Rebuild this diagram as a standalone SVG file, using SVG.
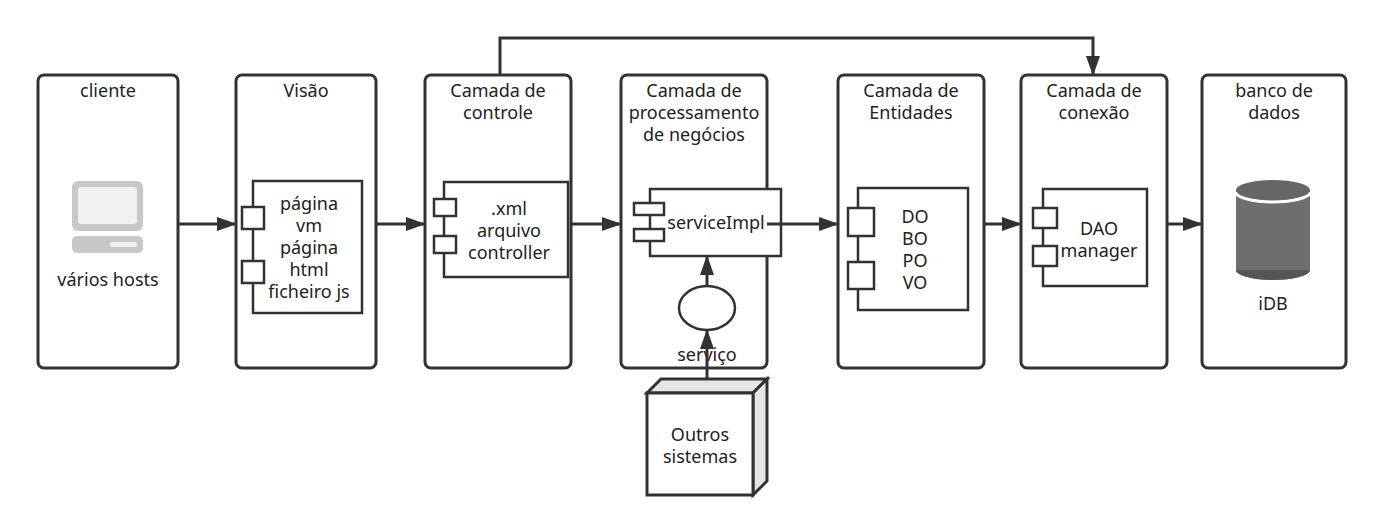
<svg xmlns="http://www.w3.org/2000/svg" width="1381" height="532" viewBox="0 0 1381 532">
<style>
.n{fill:#fff;stroke:#323232;stroke-width:3}
.i{fill:#fff;stroke:#323232;stroke-width:2.5}
.c{fill:none;stroke:#323232;stroke-width:3}
text{font-family:"Noto Sans","Open Sans",sans-serif;font-size:18px;fill:#222;text-anchor:middle}
</style>
<defs>
<marker id="b" markerWidth="20" markerHeight="14" refX="19" refY="7" orient="auto" markerUnits="userSpaceOnUse"><path d="M0,0L20,7L0,14z" fill="#323232"/></marker></defs>
<rect width="1381" height="532" fill="#fff"/>
<g id="cliente"><rect class="n" x="38" y="75" width="140" height="293" rx="6"/><text x="108" y="97">cliente</text>
<rect x="72" y="181" width="71" height="50" rx="6" fill="#c8c8c8"/><rect x="78" y="187" width="59" height="37" rx="3" fill="#f0f0f0"/><rect x="72" y="236" width="71" height="17" rx="5" fill="#c8c8c8"/><rect x="110" y="242" width="27" height="5" rx="2" fill="#f0f0f0"/>
<text x="108" y="286" font-size="20">vários hosts</text></g>
<g id="visao"><rect class="n" x="236" y="75" width="140" height="293" rx="6"/><text x="306" y="97">Visão</text>
<rect class="i" x="253" y="181" width="109" height="132"/><rect class="i" x="242" y="207" width="22" height="22"/><rect class="i" x="242" y="261" width="22" height="22"/>
<text x="309" y="210">página</text><text x="309" y="232">vm</text><text x="309" y="254">página</text><text x="309" y="276">html</text><text x="309" y="298">ficheiro js</text></g>
<g id="controle"><rect class="n" x="425" y="75" width="146" height="293" rx="6"/><text x="498" y="97">Camada de</text><text x="498" y="119">controle</text>
<rect class="i" x="444" y="182" width="124" height="95"/><rect class="i" x="434" y="199" width="22" height="17"/><rect class="i" x="434" y="236" width="22" height="17"/>
<text x="509" y="215">.xml</text><text x="509" y="237">arquivo</text><text x="509" y="259">controller</text></g>
<g id="processamento"><rect class="n" x="621" y="75" width="146" height="293" rx="6"/><text x="694" y="97">Camada de</text><text x="694" y="119">processamento</text><text x="694" y="141">de negócios</text>
<rect class="i" x="650" y="189" width="131" height="67"/><rect class="i" x="634" y="203" width="30" height="12"/><rect class="i" x="634" y="229" width="30" height="12"/>
<text x="716" y="229">serviceImpl</text>
<ellipse class="i" cx="707" cy="308" rx="28" ry="22"/><text x="707" y="361" font-size="20">serviço</text></g>
<g id="entidades"><rect class="n" x="838" y="75" width="146" height="293" rx="6"/><text x="911" y="97">Camada de</text><text x="911" y="119">Entidades</text>
<rect class="i" x="858" y="188" width="110" height="122"/><rect class="i" x="848" y="208" width="26" height="28"/><rect class="i" x="848" y="262" width="26" height="27"/>
<text x="915" y="223">DO</text><text x="915" y="245">BO</text><text x="915" y="267">PO</text><text x="915" y="289">VO</text></g>
<g id="conexao"><rect class="n" x="1021" y="75" width="146" height="293" rx="6"/><text x="1094" y="97">Camada de</text><text x="1094" y="119">conexão</text>
<rect class="i" x="1043" y="189" width="104" height="97"/><rect class="i" x="1033" y="208" width="24" height="20"/><rect class="i" x="1033" y="246" width="24" height="20"/>
<text x="1099" y="235">DAO</text><text x="1099" y="257">manager</text></g>
<g id="banco"><rect class="n" x="1202" y="75" width="144" height="293" rx="6"/><text x="1274" y="97">banco de</text><text x="1274" y="119">dados</text>
<path d="M1236,190v80a37,10 0 0 0 74,0v-80z" fill="#6e6e6e"/><path d="M1236,270a37,10 0 0 0 74,0" fill="#555"/>
<path d="M1236,192a37,10 0 0 0 74,0" fill="none" stroke="#fff" stroke-width="3"/>
<ellipse cx="1273" cy="190" rx="37" ry="10" fill="#666"/>
<text x="1273" y="310" font-size="20">iDB</text></g>
<g id="outros"><path d="M647,393l14,-14h106l-14,14z" fill="#e6e6e6" stroke="#323232" stroke-width="3"/><path d="M753,393l14,-14v102l-14,14z" fill="#e6e6e6" stroke="#323232" stroke-width="3"/>
<rect class="n" x="647" y="393" width="106" height="102"/><text x="700" y="441">Outros</text><text x="700" y="463">sistemas</text></g>
<g id="connectors">
<path class="c" d="M178,224H236" marker-end="url(#b)"/>
<path class="c" d="M376,224H425" marker-end="url(#b)"/>
<path class="c" d="M571,224H621" marker-end="url(#b)"/>
<path class="c" d="M767,224H838" marker-end="url(#b)"/>
<path class="c" d="M984,224H1021" marker-end="url(#b)"/>
<path class="c" d="M1167,224H1202" marker-end="url(#b)"/>
<path class="c" d="M500,75V38H1093V75" marker-end="url(#b)"/>
<path class="c" d="M707,286V256" marker-end="url(#b)"/>
<path class="c" d="M707,380V330" marker-end="url(#b)"/>
</g>
</svg>
